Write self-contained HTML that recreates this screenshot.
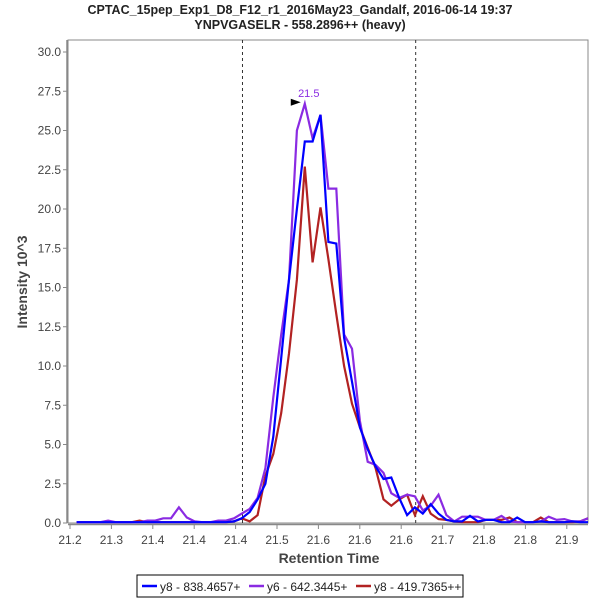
<!DOCTYPE html>
<html><head><meta charset="utf-8"><style>
body{margin:0;background:#fff;}
svg text{font-family:"Liberation Sans","DejaVu Sans",sans-serif;}
</style></head><body>
<svg id="chart" width="600" height="600" xmlns="http://www.w3.org/2000/svg">
<rect width="600" height="600" fill="#fff"/>
<text x="300" y="14" text-anchor="middle" font-size="12.5" font-weight="bold" fill="#222">CPTAC_15pep_Exp1_D8_F12_r1_2016May23_Gandalf, 2016-06-14 19:37</text>
<text x="300" y="29" text-anchor="middle" font-size="12.5" font-weight="bold" fill="#222">YNPVGASELR - 558.2896++ (heavy)</text>
<g id="axes"></g>
<g id="marks"></g>
<text x="329" y="563" text-anchor="middle" font-size="14" font-weight="bold" fill="#444">Retention Time</text>
<text transform="translate(27,282) rotate(-90)" text-anchor="middle" font-size="14" font-weight="bold" fill="#444">Intensity 10^3</text>
<g>
<rect x="137" y="575" width="326" height="22" fill="#fff" stroke="#000" stroke-width="1"/>
<g><line x1="142" y1="586" x2="157" y2="586" stroke="#0000ff" stroke-width="2.5"/><text x="160" y="591" font-size="12" fill="#222">y8 - 838.4657+</text></g>
<g><line x1="249" y1="586" x2="264" y2="586" stroke="#8a2be2" stroke-width="2.5"/><text x="267" y="591" font-size="12" fill="#222">y6 - 642.3445+</text></g>
<g><line x1="356" y1="586" x2="371" y2="586" stroke="#b22222" stroke-width="2.5"/><text x="374" y="591" font-size="12" fill="#222">y8 - 419.7365++</text></g>
</g>
</svg>
<script>
const xTickLabels=["21.2","21.3","21.4","21.4","21.4","21.5","21.6","21.6","21.6","21.7","21.8","21.8","21.9"];
const yTickValues=[0,2.5,5,7.5,10,12.5,15,17.5,20,22.5,25,27.5,30];
const tStart=21.2093, tStep=0.01108;
const blueValues=[0.05,0.05,0.05,0.05,0.05,0.05,0.05,0.05,0.05,0.05,0.05,0.05,0.05,0.05,0.05,0.05,0.05,0.05,0.05,0.05,0.1,0.3,0.7,1.5,2.5,5.5,10.5,15.5,20,24.3,24.3,26,17.9,17.8,11.8,9.0,6.1,4.7,3.6,2.8,2.9,1.6,0.5,1.0,0.6,1.2,0.6,0.2,0.1,0.1,0.45,0.1,0.2,0.2,0.05,0.05,0.35,0.05,0.05,0.1,0.05,0.05,0.05,0.1,0.05,0.05];
const purpleValues=[0.05,0.05,0.05,0.05,0.15,0.05,0.05,0.05,0.05,0.15,0.15,0.3,0.3,1.0,0.35,0.1,0.05,0.05,0.15,0.15,0.3,0.6,0.9,1.6,3.5,8.0,12,15.5,25.0,26.7,24.5,26.0,21.3,21.3,12.0,11.1,6.5,3.9,3.7,3.2,1.9,1.6,1.8,1.7,0.8,1.1,1.8,0.5,0.1,0.4,0.4,0.4,0.2,0.2,0.45,0.1,0.05,0.05,0.05,0.1,0.4,0.2,0.25,0.1,0.1,0.3];
const redValues=[0.05,0.05,0.05,0.05,0.05,0.05,0.05,0.05,0.15,0.05,0.05,0.05,0.05,0.05,0.05,0.05,0.05,0.05,0.05,0.05,0.1,0.3,0.1,0.5,3.0,4.4,7.0,10.8,15.5,22.7,16.6,20.1,16.8,13.3,10.0,7.6,6.1,4.8,3.5,1.5,1.1,1.5,1.8,0.5,1.7,0.6,0.25,0.2,0.1,0.05,0.05,0.05,0.2,0.2,0.2,0.35,0.05,0.05,0.05,0.35,0.05,0.05,0.05,0.05,0.1,0.3];
const boundaryTimes=[21.4429,21.6868];
const annotation={label:"21.5",seriesIndex:29};

const NS="http://www.w3.org/2000/svg";
const L=68,R=588,T=40,B=523;
const xTick0=70,xTickStep=41.4,tPerTick=0.0583;
function xScale(t){return xTick0+(t-21.2)/tPerTick*xTickStep;}
function yScale(v){return B-v*15.7;}
function mk(tag,attrs,parent){const e=document.createElementNS(NS,tag);for(const k in attrs)e.setAttribute(k,attrs[k]);parent.appendChild(e);return e;}
const axes=document.getElementById('axes'),marks=document.getElementById('marks');
const frame=mk('rect',{x:L,y:T,width:R-L,height:B-T,fill:'none',stroke:'#888','stroke-width':1},axes);


const xa=mk('line',{x1:L,y1:B+1.5,x2:R,y2:B+1.5,stroke:'#888','stroke-width':1.5},axes);


const ya=mk('line',{x1:L-1,y1:T,x2:L-1,y2:B,stroke:'#888','stroke-width':1.5},axes);


xTickLabels.forEach((lab,k)=>{
  const x=xTick0+k*xTickStep;
  mk('line',{x1:x,y1:B+2,x2:x,y2:B+6,stroke:'#888'},axes);
  const t=mk('text',{x:x,y:B+21,'text-anchor':'middle','font-size':12,fill:'#444'},axes);
  t.textContent=lab;
  
  
});
yTickValues.forEach(v=>{
  const y=yScale(v);
  mk('line',{x1:L-5,y1:y,x2:L-1,y2:y,stroke:'#888'},axes);
  const t=mk('text',{x:L-7,y:y+4,'text-anchor':'end','font-size':12,fill:'#444'},axes);
  t.textContent=v.toFixed(1);
  
  
});
boundaryTimes.forEach(bt=>{
  const x=xScale(bt);
  const l=mk('line',{x1:x,y1:T,x2:x,y2:B,stroke:'#333','stroke-width':1,'stroke-dasharray':'3,3'},marks);
  
  
});
function series(vals,color,name){
  const pts=vals.map((v,i)=>xScale(tStart+i*tStep).toFixed(1)+','+yScale(v).toFixed(1)).join(' ');
  const p=mk('polyline',{points:pts,fill:'none',stroke:color,'stroke-width':2.2,'stroke-linejoin':'miter'},marks);
  
  
}
series(redValues,'#b22222','series-y8-419');
series(purpleValues,'#8a2be2','series-y6-642');
series(blueValues,'#0000ff','series-y8-838');
const ax=xScale(tStart+annotation.seriesIndex*tStep), ay=yScale(purpleValues[annotation.seriesIndex]);
const ar=mk('polygon',{points:(ax-14)+','+(ay-5)+' '+(ax-4)+','+(ay-1.5)+' '+(ax-14)+','+(ay+2)},marks);
ar.setAttribute('fill','#000');


const at=mk('text',{x:ax+4,y:ay-7,'text-anchor':'middle','font-size':11,fill:'#8a2be2'},marks);
at.textContent=annotation.label;


</script>
</body></html>
